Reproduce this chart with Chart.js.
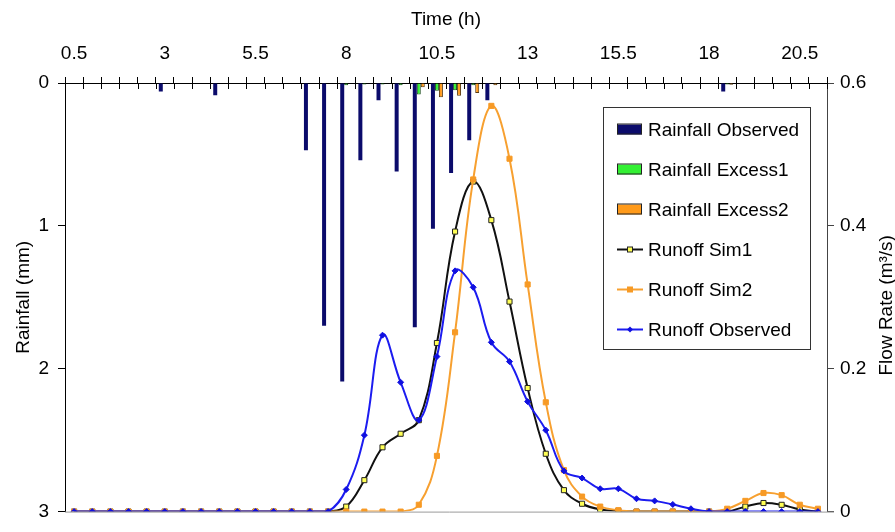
<!DOCTYPE html>
<html>
<head>
<meta charset="utf-8">
<script src="https://cdn.jsdelivr.net/npm/chart.js@4.4.1/dist/chart.umd.min.js"></script>
<style>
  html, body { margin: 0; padding: 0; background: #fff; }
  #wrap { width: 895px; height: 532px; }
</style>
</head>
<body>
<div id="wrap"><canvas id="rain-runoff-chart" width="895" height="532"></canvas></div>
<script>
    // Time steps (h), one per half hour
    const times = [0.5, 1, 1.5, 2, 2.5, 3, 3.5, 4, 4.5, 5, 5.5, 6, 6.5, 7, 7.5, 8, 8.5, 9, 9.5, 10,
                   10.5, 11, 11.5, 12, 12.5, 13, 13.5, 14, 14.5, 15, 15.5, 16, 16.5, 17, 17.5, 18,
                   18.5, 19, 19.5, 20, 20.5, 21];

    // Rainfall (mm), hanging from the top axis
    const rainObserved = [0, 0, 0, 0, 0, 0.06, 0, 0, 0.085, 0, 0, 0, 0, 0.47, 1.70, 2.09, 0.54, 0.12, 0.62, 1.71,
                          1.02, 0.63, 0.40, 0.12, 0, 0, 0, 0, 0, 0, 0, 0, 0, 0, 0, 0, 0.06, 0, 0, 0, 0, 0];
    const rainExcess1 = [0, 0, 0, 0, 0, 0, 0, 0, 0, 0, 0, 0, 0, 0, 0, 0.015, 0.01, 0.01, 0.015, 0.08,
                         0.055, 0.05, 0.015, 0, 0, 0, 0, 0, 0, 0, 0, 0, 0, 0, 0, 0, 0.01, 0, 0, 0, 0, 0];
    const rainExcess2 = [0, 0, 0, 0, 0, 0, 0, 0, 0, 0, 0, 0, 0, 0, 0, 0, 0, 0, 0, 0.03,
                         0.10, 0.09, 0.07, 0.015, 0, 0, 0, 0, 0, 0, 0, 0, 0, 0, 0, 0, 0.012, 0, 0, 0, 0, 0];

    // Flow rate (m3/s)
    const runoffSim1 = [0, 0, 0, 0, 0, 0, 0, 0, 0, 0, 0, 0, 0, 0, 0, 0.007, 0.044, 0.09, 0.109, 0.128,
                        0.236, 0.392, 0.462, 0.408, 0.294, 0.173, 0.081, 0.030, 0.011, 0.003, 0.001, 0, 0, 0, 0, 0,
                        0, 0.007, 0.012, 0.0095, 0.003, 0];
    const runoffSim2 = [0, 0, 0, 0, 0, 0, 0, 0, 0, 0, 0, 0, 0, 0, 0, 0, 0, 0, 0, 0.0096,
                        0.078, 0.251, 0.465, 0.568, 0.494, 0.318, 0.153, 0.058, 0.021, 0.007, 0.002, 0, 0, 0, 0, 0,
                        0.004, 0.015, 0.026, 0.023, 0.0096, 0.004];
    const runoffObserved = [0, 0, 0, 0, 0, 0, 0, 0, 0, 0, 0, 0, 0, 0, 0, 0.031, 0.107, 0.247, 0.181, 0.128,
                            0.217, 0.337, 0.314, 0.237, 0.21, 0.154, 0.114, 0.057, 0.047, 0.032, 0.032, 0.018, 0.015, 0.010, 0.004, 0,
                            0, 0, 0, 0, 0, 0];

    const FONT = { family: '"Liberation Sans", Arial, sans-serif', size: 19 };
    Chart.defaults.color = '#000';
    Chart.defaults.font.family = FONT.family;
    Chart.defaults.font.size = FONT.size;

    // Extra drawing: lower half of the crossing ticks, bottom frame, right title, boxed legend
    const framePlugin = {
        id: 'framePlugin',
        afterDraw(chart) {
            const { ctx, chartArea: a, scales } = chart;
            const xs = scales.x;
            ctx.save();

            // bottom frame line
            ctx.strokeStyle = '#9a9a9a';
            ctx.lineWidth = 1;
            ctx.beginPath();
            ctx.moveTo(a.left, a.bottom + 0.5);
            ctx.lineTo(a.right + 7, a.bottom + 0.5);
            ctx.stroke();

            // ticks crossing the top axis
            ctx.strokeStyle = '#000';
            const step = xs.getPixelForTick(1) - xs.getPixelForTick(0);
            const first = xs.getPixelForTick(0) - step / 2;
            ctx.beginPath();
            for (let i = 0; i <= xs.ticks.length; i++) {
                const px = Math.round(first + i * step) + 0.5;
                ctx.moveTo(px, a.top);
                ctx.lineTo(px, a.top + 6);
            }
            ctx.stroke();

            // right axis title, read bottom-to-top
            ctx.fillStyle = '#000';
            ctx.font = FONT.size + 'px ' + FONT.family;
            ctx.textAlign = 'center';
            ctx.textBaseline = 'middle';
            ctx.translate(887, (a.top + a.bottom) / 2 + 8);
            ctx.rotate(-Math.PI / 2);
            ctx.fillText('Flow Rate (m\u00b3/s)', 0, 0);
            ctx.restore();

            // legend
            ctx.save();
            const lx = 603.5, ly = 107.5, lw = 207, lh = 242;
            ctx.fillStyle = '#fff';
            ctx.fillRect(lx, ly, lw, lh);
            ctx.strokeStyle = '#333';
            ctx.lineWidth = 1;
            ctx.strokeRect(lx, ly, lw, lh);
            ctx.font = FONT.size + 'px ' + FONT.family;
            ctx.textBaseline = 'middle';
            ctx.textAlign = 'left';
            const order = [0, 1, 2, 3, 4, 5];
            order.forEach((di, k) => {
                const ds = chart.data.datasets[di];
                const y = 129.5 + k * 40;
                if (ds.type === 'bar') {
                    ctx.fillStyle = ds.backgroundColor;
                    ctx.fillRect(617, y - 5, 25, 10);
                    ctx.strokeStyle = '#222';
                    ctx.strokeRect(617.5, y - 5.5, 24, 10);
                } else {
                    ctx.strokeStyle = ds.borderColor;
                    ctx.lineWidth = 2;
                    ctx.beginPath();
                    ctx.moveTo(617, y);
                    ctx.lineTo(643, y);
                    ctx.stroke();
                    ctx.lineWidth = 1;
                    ctx.fillStyle = ds.pointBackgroundColor;
                    ctx.strokeStyle = ds.pointBorderColor;
                    if (ds.pointStyle === 'rectRot') {
                        ctx.beginPath();
                        ctx.moveTo(630, y - 3); ctx.lineTo(633, y); ctx.lineTo(630, y + 3); ctx.lineTo(627, y);
                        ctx.closePath(); ctx.fill();
                    } else {
                        ctx.fillRect(627.5, y - 2.5, 5, 5);
                        ctx.strokeRect(627.5, y - 2.5, 5, 5);
                    }
                }
                ctx.fillStyle = '#000';
                ctx.fillText(ds.label, 648, y + 1);
            });
            ctx.restore();
        }
    };

    const ctx = document.getElementById('rain-runoff-chart').getContext('2d');
    const chart = new Chart(ctx, {
        data: {
            labels: times,
            datasets: [
                { type: 'bar', label: 'Rainfall Observed', data: rainObserved, yAxisID: 'y',
                  backgroundColor: '#0b0b6b', borderColor: '#05053a', borderWidth: 0,
                  categoryPercentage: 0.66, barPercentage: 1.0, order: 10 },
                { type: 'bar', label: 'Rainfall Excess1', data: rainExcess1, yAxisID: 'y',
                  backgroundColor: '#33f033', borderColor: '#1a4d1a', borderWidth: 1,
                  categoryPercentage: 0.66, barPercentage: 1.0, order: 10 },
                { type: 'bar', label: 'Rainfall Excess2', data: rainExcess2, yAxisID: 'y',
                  backgroundColor: '#ff9a1a', borderColor: '#5a3a10', borderWidth: 1,
                  categoryPercentage: 0.66, barPercentage: 1.0, order: 10 },
                { type: 'line', label: 'Runoff Sim1', data: runoffSim1, yAxisID: 'y2',
                  borderColor: '#111', borderWidth: 2, tension: 0.4,
                  pointStyle: 'rect', pointRadius: 3.6, pointBackgroundColor: '#ffff55',
                  pointBorderColor: '#222', pointBorderWidth: 1, order: 3 },
                { type: 'line', label: 'Runoff Sim2', data: runoffSim2, yAxisID: 'y2',
                  borderColor: '#f7a030', borderWidth: 2, tension: 0.4,
                  pointStyle: 'rect', pointRadius: 3.6, pointBackgroundColor: '#f79a25',
                  pointBorderColor: '#f79a25', pointBorderWidth: 1, order: 2 },
                { type: 'line', label: 'Runoff Observed', data: runoffObserved, yAxisID: 'y2',
                  borderColor: '#1c1cf0', borderWidth: 2, tension: 0.4,
                  pointStyle: 'rectRot', pointRadius: 3, pointBackgroundColor: '#1010e0',
                  pointBorderColor: '#1010e0', pointBorderWidth: 1, order: 1 }
            ]
        },
        options: {
            responsive: false,
            animation: false,
            layout: { padding: { top: 0, left: 0, right: 0, bottom: 10 } },
            plugins: {
                legend: { display: false },
                tooltip: { enabled: false },
                title: { display: false }
            },
            scales: {
                x: {
                    type: 'category',
                    position: 'top',
                    offset: true,
                    grid: { display: true, offset: true, drawOnChartArea: false, tickLength: 6, color: '#000' },
                    border: { display: true, color: '#000', width: 1 },
                    ticks: {
                        autoSkip: false, maxRotation: 0, padding: 12,
                        callback: function (val, i) { return i % 5 === 0 ? String(times[i]) : ''; }
                    },
                    title: { display: true, text: 'Time (h)', padding: { top: 8, bottom: 0 } },
                    afterFit: function (s) { s.height = 83; }
                },
                y: {
                    position: 'left',
                    reverse: true,
                    min: 0, max: 3,
                    grid: { display: true, drawOnChartArea: false, tickLength: 7, color: '#000' },
                    border: { display: true, color: '#000', width: 1 },
                    ticks: { stepSize: 1, padding: 9 },
                    title: { display: true, text: 'Rainfall (mm)', padding: { top: 12, bottom: 0 } },
                    afterFit: function (s) { s.width = 65; }
                },
                y2: {
                    position: 'right',
                    min: 0, max: 0.6,
                    grid: { display: true, drawOnChartArea: false, tickLength: 7, color: '#444' },
                    border: { display: true, color: '#444', width: 1 },
                    ticks: { stepSize: 0.2, padding: 6 },
                    afterFit: function (s) { s.width = 68; }
                }
            }
        },
        plugins: [framePlugin]
    });
</script>
</body>
</html>
